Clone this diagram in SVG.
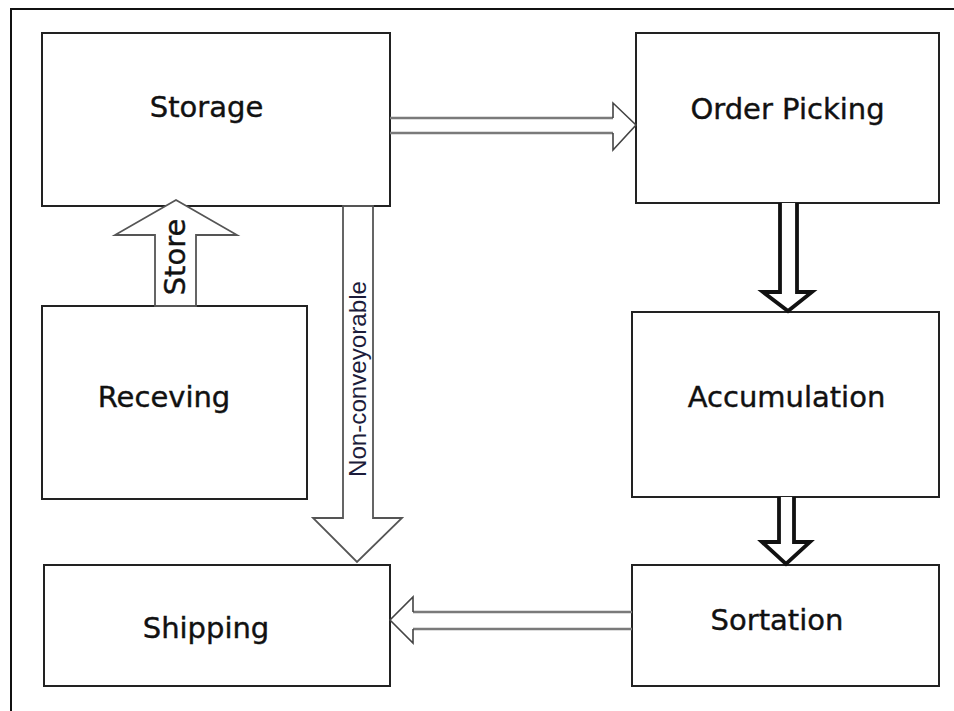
<svg xmlns="http://www.w3.org/2000/svg" width="954" height="711" viewBox="0 0 954 711">
  <style>
    .box { fill: #ffffff; stroke: #222222; stroke-width: 2; }
    .label { font-family: "DejaVu Sans", Verdana, sans-serif; font-size: 29px; fill: #111111; stroke: #111111; stroke-width: 0.4; text-anchor: middle; }
    .hollow { fill: none; stroke: #7a7a7a; stroke-width: 2.5; }
    .hollow-head { fill: none; stroke: #444444; stroke-width: 1.6; }
    .bold-arrow { fill: #ffffff; stroke: #111111; stroke-width: 3.8; stroke-linejoin: miter; }
    .thin-arrow { fill: #ffffff; stroke: #555555; stroke-width: 1.8; }
    .side-label { font-family: "Liberation Sans", Arial, sans-serif; fill: #1c1c3a; text-anchor: middle; }
  </style>

  <rect x="0" y="0" width="954" height="711" fill="#ffffff"/>

  <!-- outer frame -->
  <path d="M11,711 V9 H954" fill="none" stroke="#111111" stroke-width="2"/>

  <g id="storage">
    <rect class="box" x="42" y="33" width="348" height="173"/>
    <text class="label" x="206.5" y="117">Storage</text>
  </g>

  <g id="order-picking">
    <rect class="box" x="636" y="33" width="303" height="170"/>
    <text class="label" x="787.5" y="119">Order Picking</text>
  </g>

  <g id="receiving">
    <rect class="box" x="42" y="306" width="265" height="193"/>
    <text class="label" x="164" y="407">Receving</text>
  </g>

  <g id="accumulation">
    <rect class="box" x="632" y="312" width="307" height="185"/>
    <text class="label" x="786.5" y="407">Accumulation</text>
  </g>

  <g id="shipping">
    <rect class="box" x="44" y="565" width="346" height="121"/>
    <text class="label" x="206" y="638">Shipping</text>
  </g>

  <g id="sortation">
    <rect class="box" x="632" y="565" width="307" height="121"/>
    <text class="label" x="777" y="630">Sortation</text>
  </g>

  <g id="connectors">
    <!-- Storage to Order Picking -->
    <path class="hollow" d="M390,118 H613 M613,133 H390"/>
    <path class="hollow-head" d="M613,118 V103 L636,125 L613,150 V133"/>

    <!-- Order Picking to Accumulation -->
    <path class="bold-arrow" d="M780,203 V292 H763 L788,311 L812,292 H797 V203"/>

    <!-- Accumulation to Sortation -->
    <path class="bold-arrow" d="M779,497 V542 H762 L786,564 L810,542 H794 V497"/>

    <!-- Sortation to Shipping -->
    <path class="hollow" d="M632,612 H413 M413,629 H632"/>
    <path class="hollow-head" d="M413,612 V597 L390,620 L413,643 V629"/>

    <!-- Receiving to Storage -->
    <polygon class="thin-arrow" points="155,306 155,235 115,235 176,200 237,235 196,235 196,306"/>
    <text class="label" transform="translate(185,257) rotate(-90)" x="0" y="0">Store</text>

    <!-- Storage to Shipping -->
    <polygon class="thin-arrow" points="343,206 343,518 313,518 357,562 402,518 373,518 373,206"/>
    <text class="side-label" transform="translate(366,379) rotate(-90)" x="0" y="0" font-size="24" textLength="196" lengthAdjust="spacingAndGlyphs">Non-conveyorable</text>
  </g>
</svg>
